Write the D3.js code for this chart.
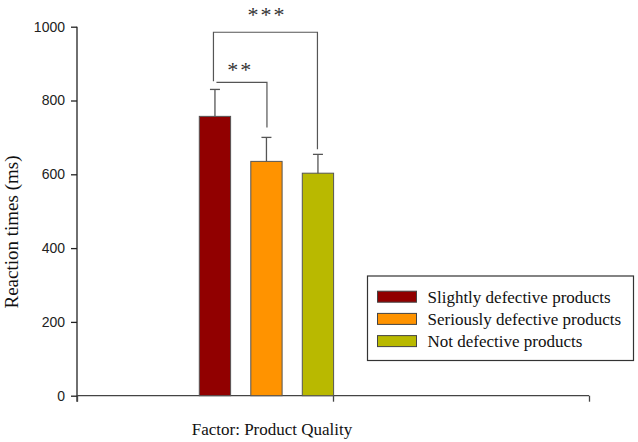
<!DOCTYPE html>
<html><head><meta charset="utf-8">
<script src="https://cdn.jsdelivr.net/npm/d3@7"></script>
<style>body{margin:0;background:#fff}svg{display:block}</style>
</head><body>
<script>
const series = ["Slightly defective products","Seriously defective products","Not defective products"];
const means = [757, 635, 603];
const errors = [73, 65, 51];
const colors = ["#910000","#FF9300","#B9B900"];
const yTicks = [0,200,400,600,800,1000];
const category = "Factor: Product Quality";
const yLabel = "Reaction times (ms)";
const sig = [{from:0,to:2,label:"***",level:985},{from:0,to:1,label:"**",level:849}];

const W=638,H=442;
const serif="'Liberation Serif', 'Times New Roman', serif";
const svg=d3.select("body").append("svg").attr("width",W).attr("height",H);
const y=d3.scaleLinear().domain([0,1000]).range([395.7,26.7]);
const x=d3.scaleBand().domain(d3.range(series.length)).range([199.3,333.6]).paddingInner(0.392).paddingOuter(0);
const xAxisScale=d3.scaleLinear().domain([0,2]).range([77,589]);

// y axis
const ya=svg.append("g").attr("transform","translate(77,0)")
  .call(d3.axisLeft(y).tickValues(yTicks).tickFormat(d3.format("d")).tickSize(6).tickPadding(6));
ya.attr("font-family","'Liberation Sans', Arial, sans-serif").attr("font-size",14);
ya.select(".domain").attr("d",`M0,${y(1000)}V${y(0)+6}`).attr("stroke","#222").attr("stroke-width",1.3);
ya.selectAll(".tick line").attr("stroke","#222").attr("stroke-width",1.3);
ya.selectAll(".tick text").attr("fill","#222");

// x axis
const xa=svg.append("g").attr("transform",`translate(0,${y(0)})`)
  .call(d3.axisBottom(xAxisScale).tickValues([0,1,2]).tickSize(6).tickFormat(""));
xa.select(".domain").attr("d",`M77,0H589`).attr("stroke","#444").attr("stroke-width",1.3);
xa.selectAll(".tick line").attr("stroke","#444").attr("stroke-width",1.3);

// bars
svg.selectAll("rect.bar").data(means).enter().append("rect").attr("class","bar")
  .attr("x",(d,i)=>x(i)).attr("width",x.bandwidth())
  .attr("y",d=>y(d)).attr("height",d=>y(0)-y(d))
  .attr("fill",(d,i)=>colors[i]).attr("stroke","#555").attr("stroke-width",1);

// error bars
const eb=svg.append("g").attr("stroke","#555").attr("stroke-width",1.3);
means.forEach((m,i)=>{
  const cx=x(i)+x.bandwidth()/2;
  eb.append("line").attr("x1",cx).attr("x2",cx).attr("y1",y(m)).attr("y2",y(m+errors[i]));
  eb.append("line").attr("x1",cx-5).attr("x2",cx+5).attr("y1",y(m+errors[i])).attr("y2",y(m+errors[i]));
});

// significance brackets
const sg=svg.append("g");
const cxOf=i=>x(i)+x.bandwidth()/2;
{
  const s=sig[0];
  const x1=cxOf(s.from)-1.5,x2=cxOf(s.to)-0.5,yl=y(s.level);
  sg.append("path").attr("d",`M${x1},${y(852)}V${yl}H${x2}V${y(668)}`).attr("fill","none").attr("stroke","#555").attr("stroke-width",1.2);
  sg.append("text").attr("x",(x1+x2)/2+1.5).attr("y",yl-10).attr("text-anchor","middle")
    .attr("font-family",serif).attr("font-size",22).attr("letter-spacing",2).attr("fill","#333").text(s.label);
}
{
  const s=sig[1];
  const x1=cxOf(s.from)+1.5,x2=cxOf(s.to)+0.5,yl=y(s.level);
  sg.append("path").attr("d",`M${x1},${yl}H${x2}V${y(727)}`).attr("fill","none").attr("stroke","#555").attr("stroke-width",1.2);
  sg.append("text").attr("x",(x1+x2)/2-1.5).attr("y",yl-5.5).attr("text-anchor","middle")
    .attr("font-family",serif).attr("font-size",22).attr("letter-spacing",2).attr("fill","#333").text(s.label);
}

// axis labels
svg.append("text").attr("transform","translate(18,232) rotate(-90)").attr("text-anchor","middle")
  .attr("font-family",serif).attr("font-size",19).attr("fill","#111").text(yLabel);
svg.append("text").attr("x",272).attr("y",435).attr("text-anchor","middle")
  .attr("font-family",serif).attr("font-size",17).attr("fill","#111").text(category);

// legend
const lg=svg.append("g");
lg.append("rect").attr("x",367.5).attr("y",276).attr("width",266).attr("height",84.5).attr("fill","#fff").attr("stroke","#333").attr("stroke-width",1.2);
series.forEach((s,i)=>{
  const cy=296.7+i*22.2;
  lg.append("rect").attr("x",377.5).attr("y",cy-5.5).attr("width",39).attr("height",11).attr("fill",colors[i]).attr("stroke","#444").attr("stroke-width",1);
  lg.append("text").attr("x",427.5).attr("y",cy+6).attr("font-family",serif).attr("font-size",17).attr("fill","#111").text(s);
});
</script>
</body></html>
